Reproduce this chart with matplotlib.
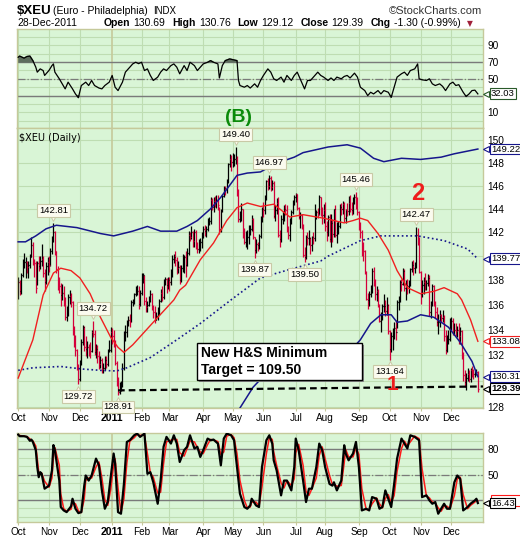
import numpy as np
import pandas as pd
import matplotlib
matplotlib.use("Agg")
import matplotlib.pyplot as plt
from matplotlib.patches import Rectangle
from matplotlib.ticker import FixedLocator, FuncFormatter, NullLocator
from matplotlib.transforms import blended_transform_factory, offset_copy

plt.rcParams["font.family"] = ["Liberation Sans", "DejaVu Sans"]

W, H = 520, 540
BG = "#D9F5D6"
GRID = "#BEDDB2"
TAN = "#C5C99A"
RED = "#D4003A"
NAVY = "#16168C"
MA_RED = "#F02020"
LINE_GREY = "#7A7A7A"

# ── trading calendar ─────────────────────────────────────────────────────────
holidays = ["2010-11-25", "2010-12-24", "2011-01-17", "2011-02-21", "2011-04-22",
            "2011-05-30", "2011-07-04", "2011-09-05", "2011-11-24", "2011-12-26"]
days = pd.bdate_range("2010-10-01", "2011-12-28")
days = days[~days.isin(pd.to_datetime(holidays))]

# ── daily bars, month by month ──────────────────────────────────────────────
closes = [
    137.9, 137.1, 138.4, 139.3, 139.5, 139.5, 139.1, 139.3, 139.9, 140.9, 139.7, 139.4, 137.4, 139.4, 139.2, 139.6, 139.8, 138.6, 137.9, 139.2, 139.5,
    139.3, 140.4, 141.3, 142.0, 140.4, 138.9, 137.9, 137.5, 136.8, 137.0, 136.1, 135.0, 135.4, 136.6, 136.7, 136.2, 133.8, 133.3, 132.4, 131.2, 130.1,
    131.4, 133.0, 134.2, 132.6, 132.5, 132.6, 132.5, 132.3, 133.8, 133.7, 132.2, 132.5, 131.9, 131.3, 131.6, 130.9, 131.0, 131.6, 131.3, 132.3, 132.4, 133.8,
    133.5, 133.0, 131.4, 129.9, 129.1, 129.7, 129.8, 131.0, 133.6, 133.8, 134.6, 134.8, 134.6, 136.2, 136.2, 136.9, 137.1, 137.1, 136.1, 137.0,
    138.1, 138.4, 136.3, 135.8, 136.0, 136.5, 136.9, 135.8, 135.4, 134.8, 135.1, 135.5, 136.3, 137.0, 136.6, 138.0, 138.1, 137.6, 138.0,
    137.9, 138.5, 139.8, 139.9, 139.7, 139.0, 139.1, 138.0, 139.0, 139.8, 139.9, 139.3, 140.3, 141.8, 141.6, 142.0, 141.3, 142.0, 140.9, 140.6, 141.1, 141.2, 141.6,
    142.3, 142.1, 142.3, 143.0, 143.0, 144.8, 144.2, 144.7, 144.6, 144.8, 144.3, 142.3, 143.8, 145.1, 145.8, 145.7, 146.5, 147.9, 148.3, 148.1,
    148.3, 148.3, 148.3, 145.4, 143.1, 143.5, 144.0, 141.9, 141.2, 141.2, 141.6, 142.3, 142.3, 143.1, 141.6, 140.5, 141.0, 140.9, 141.7, 143.1, 144.0,
    143.9, 145.0, 146.4, 146.0, 146.7, 145.9, 146.2, 143.4, 143.9, 144.5, 141.8, 141.4, 143.1, 143.4, 144.0, 143.9, 142.2, 141.8, 142.9, 143.7, 144.4, 145.0,
    145.3, 144.1, 143.3, 143.5, 142.6, 140.1, 139.9, 141.6, 141.5, 141.5, 140.9, 141.6, 141.5, 143.6, 143.7, 143.6, 145.0, 143.6, 143.5, 143.9,
    142.5, 142.0, 143.3, 141.4, 142.8, 141.9, 144.0, 141.8, 142.4, 142.5, 144.2, 144.0, 144.4, 143.2, 143.9, 143.8, 144.5, 144.0, 143.9, 144.9, 145.0, 144.5, 143.7,
    142.4, 142.0, 140.7, 140.4, 138.7, 136.5, 136.4, 136.9, 137.3, 138.8, 137.9, 136.9, 137.1, 136.0, 134.7, 135.0, 135.9, 135.9, 135.5, 136.0, 133.9,
    132.5, 133.5, 133.5, 134.1, 133.8, 136.2, 136.3, 137.9, 137.7, 138.8, 137.4, 137.6, 137.5, 137.7, 138.9, 139.3, 139.0, 139.1, 141.8, 141.5, 138.7,
    136.9, 137.6, 137.9, 137.8, 137.8, 138.2, 135.4, 136.1, 137.5, 136.1, 135.4, 134.6, 134.6, 135.2, 134.9, 135.0, 133.5, 132.4, 133.2, 133.3, 134.5,
    134.7, 134.0, 134.0, 133.9, 134.0, 133.5, 133.9, 131.9, 130.4, 129.9, 130.2, 130.5, 130.1, 130.8, 130.6, 130.5, 130.6, 130.7, 129.39,
]
highs = [
    138.3, 138.0, 138.6, 139.8, 140.3, 139.9, 139.6, 139.6, 140.2, 141.6, 141.2, 139.8, 139.6, 139.6, 140.0, 140.0, 141.0, 140.0, 138.9, 139.5, 139.9,
    140.0, 140.7, 141.7, 142.81, 142.1, 140.4, 139.2, 138.3, 137.8, 137.7, 137.5, 136.6, 135.9, 136.9, 137.2, 137.0, 136.3, 134.3, 133.6, 132.5, 131.3,
    131.6, 133.3, 134.4, 134.3, 133.5, 133.1, 132.9, 133.0, 134.0, 134.72, 134.0, 132.9, 132.8, 132.3, 131.9, 131.8, 131.4, 131.9, 131.9, 132.5, 133.2, 134.2,
    134.1, 134.0, 133.2, 131.5, 130.3, 129.9, 130.0, 131.4, 133.9, 134.4, 134.8, 135.1, 135.3, 136.4, 136.5, 137.0, 137.5, 137.6, 137.5, 137.2,
    138.6, 138.6, 138.4, 136.6, 136.3, 136.7, 137.2, 137.0, 136.0, 135.9, 135.4, 135.8, 136.5, 137.3, 137.5, 138.1, 138.3, 138.2, 138.3,
    138.3, 138.9, 140.1, 140.2, 140.4, 139.9, 139.6, 139.3, 139.3, 140.2, 140.1, 140.4, 140.7, 142.1, 142.0, 142.5, 142.1, 142.3, 142.2, 141.2, 141.4, 141.5, 142.0,
    142.5, 142.6, 142.5, 143.2, 143.3, 145.0, 144.9, 145.0, 145.1, 145.2, 145.2, 144.2, 144.0, 145.2, 146.0, 146.0, 146.6, 148.0, 148.8, 148.7,
    148.9, 148.8, 149.40, 148.6, 145.7, 143.8, 144.5, 144.0, 142.4, 142.1, 142.2, 142.6, 142.6, 143.5, 143.2, 141.6, 141.4, 141.2, 141.9, 143.4, 144.2,
    144.6, 145.2, 146.5, 146.7, 146.97, 146.8, 146.5, 146.4, 144.3, 144.9, 145.0, 142.2, 143.5, 143.8, 144.3, 144.4, 144.3, 142.5, 143.2, 143.9, 144.8, 145.2,
    145.4, 145.3, 144.2, 143.7, 143.6, 142.7, 140.8, 141.8, 142.0, 142.2, 141.6, 141.7, 142.0, 144.4, 143.9, 144.1, 145.2, 145.0, 144.2, 144.4,
    144.6, 143.0, 143.5, 143.6, 143.6, 143.1, 144.0, 144.3, 142.9, 143.0, 144.4, 144.5, 144.7, 144.6, 144.0, 144.5, 145.1, 145.2, 144.6, 145.0, 145.3, 145.46, 145.0,
    143.8, 142.9, 142.2, 141.2, 140.5, 138.8, 137.0, 137.1, 137.6, 139.0, 139.1, 138.1, 137.5, 137.3, 136.1, 135.4, 136.1, 136.9, 136.4, 136.6, 136.1,
    134.0, 133.8, 134.1, 134.6, 134.8, 136.4, 136.7, 138.0, 138.1, 139.0, 138.9, 138.0, 138.1, 138.0, 139.0, 139.6, 139.7, 139.5, 142.47, 142.4, 141.6,
    138.8, 138.0, 138.3, 138.6, 138.0, 138.5, 138.4, 136.3, 137.7, 137.6, 136.3, 135.8, 135.3, 135.6, 135.3, 135.6, 135.2, 134.0, 133.6, 134.0, 134.9,
    135.0, 134.9, 134.5, 134.5, 134.3, 134.5, 134.2, 134.0, 132.2, 130.8, 130.6, 131.0, 130.8, 131.0, 131.1, 130.9, 130.8, 130.9, 130.76,
]
lows = [
    136.5, 136.8, 136.9, 138.3, 139.0, 138.2, 138.6, 138.2, 139.0, 139.9, 139.3, 138.3, 137.0, 137.6, 138.8, 138.9, 139.2, 138.3, 137.1, 137.7, 138.4,
    138.7, 139.2, 140.2, 141.2, 140.1, 138.6, 137.2, 137.0, 135.9, 136.4, 135.9, 134.8, 134.7, 135.1, 136.1, 135.8, 133.6, 132.6, 131.9, 130.8, 129.72,
    130.0, 131.2, 132.8, 132.3, 131.9, 131.8, 131.9, 131.8, 132.2, 133.4, 132.0, 131.8, 131.4, 130.9, 131.0, 130.6, 130.6, 130.8, 131.0, 131.1, 132.2, 132.2,
    132.9, 132.6, 131.2, 129.6, 128.91, 129.0, 129.2, 129.5, 130.8, 133.1, 133.4, 134.3, 134.2, 134.6, 135.9, 136.1, 136.7, 136.8, 135.7, 135.9,
    136.8, 137.8, 136.0, 135.4, 135.4, 135.9, 136.2, 135.6, 134.9, 134.5, 134.8, 134.8, 135.2, 136.2, 136.3, 136.5, 137.6, 137.0, 137.3,
    137.1, 137.6, 138.3, 139.4, 139.2, 138.5, 138.6, 137.7, 137.9, 138.7, 138.6, 138.3, 139.2, 140.1, 141.3, 141.4, 140.8, 140.8, 140.6, 140.3, 140.3, 140.4, 140.7,
    141.5, 141.7, 141.6, 142.1, 142.6, 142.7, 143.9, 143.7, 144.2, 144.1, 143.9, 141.9, 142.0, 143.7, 145.0, 145.2, 145.4, 146.2, 147.6, 147.3,
    147.6, 147.7, 147.9, 145.1, 142.9, 142.9, 143.0, 141.5, 141.0, 140.8, 140.6, 141.0, 141.8, 142.1, 141.4, 139.87, 140.3, 140.4, 140.6, 141.5, 142.9,
    143.3, 143.6, 144.8, 145.6, 145.7, 145.5, 145.6, 143.2, 143.0, 143.6, 141.6, 140.8, 141.2, 142.7, 143.0, 143.5, 142.0, 141.4, 141.3, 142.7, 143.6, 144.3,
    144.6, 143.9, 143.1, 142.4, 142.3, 139.9, 139.50, 139.8, 140.9, 140.9, 140.2, 140.4, 141.0, 141.3, 143.1, 143.2, 143.5, 143.4, 142.7, 142.8,
    142.1, 141.3, 141.7, 141.2, 140.8, 141.2, 141.6, 141.6, 141.1, 141.9, 142.4, 143.5, 143.6, 142.9, 142.8, 143.4, 143.5, 143.7, 143.5, 143.6, 144.4, 144.0, 143.5,
    142.2, 141.5, 140.0, 139.6, 138.5, 136.4, 135.7, 135.9, 136.6, 137.0, 137.5, 136.4, 136.3, 135.8, 134.6, 133.8, 134.8, 135.4, 135.1, 135.2, 133.7,
    131.64, 132.2, 132.4, 133.3, 133.2, 134.1, 135.6, 136.2, 137.1, 137.6, 137.1, 136.4, 136.9, 137.0, 137.5, 138.7, 138.4, 138.6, 139.0, 140.9, 138.6,
    136.1, 136.6, 136.9, 137.2, 137.2, 137.5, 135.1, 134.9, 135.9, 135.9, 134.9, 134.3, 133.7, 134.2, 134.6, 134.6, 133.1, 132.1, 132.2, 132.9, 133.1,
    134.0, 133.6, 133.6, 133.5, 133.4, 132.9, 132.9, 131.7, 130.0, 129.5, 129.3, 130.0, 129.9, 129.9, 130.3, 130.1, 130.3, 130.4, 129.12,
]

# ── overlays, sampled by trading-day index ───────────────────────────────────
upper_idx = [0, 5, 12, 19, 26, 40, 56, 65, 78, 88, 97, 108, 115, 122, 131, 138, 145, 149, 156, 165,
             172, 179, 188, 194, 211, 224, 233, 242, 249, 261, 274, 288, 297, 313]
upper_val = [141.2, 141.2, 141.7, 142.3, 142.6, 142.4, 141.9, 141.7, 142.1, 142.5, 142.1, 142.1, 142.5, 143.0, 144.0, 145.0, 146.2, 146.9, 147.1, 147.2,
             147.7, 148.1, 148.5, 148.9, 149.4, 149.6, 149.3, 148.4, 148.1, 148.4, 148.3, 148.5, 148.8, 149.22]
sma50_idx = [0, 10, 17, 24, 29, 36, 42, 49, 56, 63, 68, 72, 78, 92, 106, 110, 114, 124, 133, 142, 149, 156,
             165, 174, 185, 194, 208, 222, 228, 233, 238, 245, 252, 258, 265, 274, 283, 290, 299, 302, 308, 313]
sma50_val = [130.2, 133.2, 136.8, 138.6, 139.0, 138.8, 138.2, 136.9, 135.0, 133.4, 132.6, 132.2, 132.8, 134.6, 136.4, 137.2, 137.6, 139.7, 141.1, 143.0, 144.1, 144.5,
             144.2, 144.4, 143.3, 143.5, 143.2, 142.8, 143.0, 143.2, 143.0, 141.9, 140.5, 138.8, 137.4, 136.9, 137.1, 137.4, 136.9, 136.4, 134.8, 133.08]
sma200_idx = [0, 10, 29, 44, 56, 67, 74, 90, 108, 124, 146, 165, 185, 206, 211, 233, 247, 272, 290, 306, 313]
sma200_val = [130.8, 131.0, 131.1, 130.9, 130.8, 130.75, 131.0, 131.8, 133.2, 134.5, 136.5, 138.2, 138.9, 139.6, 140.0, 141.3, 141.7, 141.7, 141.3, 140.6, 139.77]
lower_idx = [149, 151, 160, 165, 188, 199, 211, 222, 233, 240, 247, 254, 258, 265, 274, 283, 293, 301, 309, 313]
lower_val = [127.3, 127.9, 129.5, 130.1, 130.3, 130.6, 131.1, 131.8, 133.2, 134.5, 135.2, 135.2, 134.6, 134.7, 135.2, 135.0, 134.2, 133.0, 131.5, 130.31]

rsi_idx = [0, 1, 4, 6, 8, 10, 12, 13, 15, 17, 18, 21, 23, 24, 25, 28, 30, 32, 34, 37,
           39, 41, 43, 46, 48, 50, 52, 55, 57, 59, 62, 64, 66, 68, 71, 73, 75, 78, 80, 82,
           84, 86, 88, 90, 92, 95, 97, 99, 101, 104, 106, 108, 110, 113, 115, 117, 120, 122, 124, 126,
           129, 131, 133, 136, 137, 139, 141, 144, 147, 149, 150, 151, 154, 156, 158, 161, 163, 165, 167, 170,
           172, 174, 176, 179, 181, 183, 186, 188, 190, 192, 195, 197, 199, 202, 204, 206, 208, 211, 213, 215,
           217, 220, 222, 224, 226, 229, 231, 233, 236, 238, 240, 242, 245, 247, 249, 252, 254, 256, 258, 261,
           263, 265, 267, 270, 272, 273, 275, 278, 280, 282, 284, 287, 289, 291, 294, 296, 298, 300, 303, 305,
           307, 309, 311, 313]
rsi_val = [75.6, 77, 74.5, 76.5, 77, 71.6, 63.8, 57.9, 61.8, 59.8, 54, 60, 65.7, 67.7, 57.9, 50, 44, 38, 46, 38,
           32, 27.6, 42, 46, 42, 48, 42, 39, 38, 42, 46, 54, 40, 36, 46, 57.9, 61.8, 67.7, 69.7, 68,
           69.7, 59.8, 61.8, 54, 48, 52, 57.9, 61.8, 59.8, 65.7, 67.7, 63.8, 55.9, 65.7, 59.8, 69.7, 65.7, 59.8, 63.8, 67.7,
           69.7, 71.6, 69.7, 67.7, 51, 65.7, 71.6, 73.6, 72.4, 71.6, 48, 42, 40, 42, 39, 44, 40, 48, 54, 61.8,
           57.9, 50, 48, 52, 46, 54, 48, 54, 57.9, 50, 38, 48, 48, 54, 57.9, 54, 52, 48, 51, 48,
           52, 50, 52.8, 54, 51, 56.7, 52, 40, 36, 30, 34, 32, 36, 32, 36, 34, 28, 40, 52, 56,
           57.9, 54, 59.8, 61.8, 67.7, 50, 48.8, 48, 50, 44, 42, 44, 41, 36, 44, 46, 42, 43, 34, 29,
           32, 36, 36.5, 32.03]

sto_idx = [0, 1, 4, 6, 8, 9, 10, 12, 13, 14, 15, 16, 18, 21, 23, 24, 25, 28, 29, 31,
           33, 36, 37, 39, 41, 43, 45, 46, 48, 50, 53, 55, 57, 59, 61, 63, 65, 66, 68, 70,
           72, 74, 76, 79, 81, 83, 86, 88, 90, 92, 95, 97, 99, 101, 104, 106, 108, 110, 113, 115,
           117, 120, 122, 124, 126, 129, 131, 133, 136, 138, 140, 142, 145, 147, 149, 151, 154, 156, 158, 159,
           162, 164, 166, 169, 171, 173, 174, 176, 179, 181, 183, 186, 188, 189, 191, 194, 196, 198, 200, 203,
           205, 207, 209, 212, 214, 215, 217, 220, 222, 223, 225, 228, 230, 232, 234, 237, 239, 241, 244, 246,
           248, 250, 252, 254, 256, 258, 261, 263, 265, 267, 270, 273, 275, 278, 280, 282, 284, 286, 288, 290,
           292, 294, 297, 299, 301, 303, 306, 308, 311, 312, 313]
sto_k = [97.4, 95.5, 95.5, 94.7, 90, 91.5, 88.7, 79, 59, 47, 53, 51, 33.4, 37, 55, 85, 79, 43, 11.7, 7.7,
         5.7, 12.5, 21.5, 9.7, 4.5, 5.7, 37, 49, 43, 49, 69, 61, 31.4, 9.7, 17.6, 47, 75, 63, 5.7, 3.8,
         39, 88.7, 90.7, 96.6, 98.6, 94.7, 98.6, 51, 53, 41, 15.6, 43, 83, 94.7, 86.8, 96.6, 86.8, 65, 78.9, 83,
         96.6, 81, 83, 71, 78.9, 92.7, 90.7, 91.5, 86.8, 61, 92.7, 98.6, 96.6, 90.7, 59, 27.5, 11.7, 9.7, 13.6, 21.5,
         13.6, 11.7, 59, 90.7, 96.6, 86.8, 67, 55, 25.5, 43, 43, 31.4, 59, 92.7, 79, 43, 17.6, 33.4, 33.4, 59,
         86.8, 79, 59, 39, 37, 41, 31.4, 43, 84.8, 75, 67, 75, 88.7, 59, 7.7, 9.7, 7.7, 23.5, 21.5, 9.7,
         11.7, 31.4, 21.5, 11.7, 39, 69, 92.7, 86.8, 81, 96.6, 94.7, 90.7, 23.5, 25.5, 19.6, 15.6, 17.6, 3.8, 9.7, 15.6,
         9.7, 9.7, 41, 49, 45, 7.7, 11.7, 15.6, 19.6, 21.5, 16.43]

label_highs = [142.81, 149.40, 134.72, 146.97, 145.46, 142.47]
label_lows = [129.72, 128.91, 139.87, 139.50, 131.64]
hs_line = [129.25, 129.55]

n = min(len(days), len(closes), len(highs), len(lows))
closes = np.array(closes[:n])
highs = np.array(highs[:n])
lows = np.array(lows[:n])
days = days[:n]
x = np.arange(n)
month_idx = [i for i in range(n) if i == 0 or days[i].month != days[i - 1].month]
month_lab = ["2011" if days[i].month == 1 else days[i].strftime("%b") for i in month_idx]

# ── figure + panels ──────────────────────────────────────────────────────────
fig = plt.figure(figsize=(W / 100, H / 100), dpi=100)
fig.patch.set_facecolor("white")


def px_box(x0, y_top, x1, y_bot):
    return [x0 / W, 1 - y_bot / H, (x1 - x0) / W, (y_bot - y_top) / H]


ax_rsi = fig.add_axes(px_box(17, 29, 483, 128))
ax = fig.add_axes(px_box(17, 128, 483, 408))
ax_sto = fig.add_axes(px_box(17, 433, 483, 522))


def style(a, show_x):
    a.set_facecolor(BG)
    a.set_xlim(-0.8, 316.5)
    for s in a.spines.values():
        s.set_color(TAN)
        s.set_linewidth(1)
    a.yaxis.tick_right()
    a.tick_params(axis="y", length=0, pad=3, labelsize=7.3)
    for i in month_idx:
        yr = days[i].month == 1
        a.axvline(i, color=TAN if yr else GRID, lw=1.2 if yr else 0.8, zorder=0.5)
    if show_x:
        a.set_xticks(month_idx)
        a.set_xticklabels(month_lab)
        a.tick_params(axis="x", length=2, color=TAN, pad=1.5, labelsize=7.2)
        for t in a.get_xticklabels():
            if t.get_text() == "2011":
                t.set_fontweight("bold")
                t.set_fontsize(7.6)
    else:
        a.set_xticks([])


def tag(a, val, text, ec, bold=False):
    tr = blended_transform_factory(a.transAxes, a.transData)
    a.plot([1.006], [val], marker="<", ms=5, mfc="white", mec=ec, mew=0.8,
           transform=tr, clip_on=False, zorder=9)
    a.text(1.017, val, text, transform=tr, ha="left", va="center", fontsize=6.8,
           fontweight="bold" if bold else "normal",
           bbox=dict(boxstyle="square,pad=0.1", fc="white", ec=ec, lw=0.8),
           zorder=10, clip_on=False)


def y_labels(a, ticks, hidden):
    a.set_yticks(ticks)
    a.set_yticklabels(["" if t in hidden else f"{t:g}" for t in ticks])


# ── RSI panel ────────────────────────────────────────────────────────────────
style(ax_rsi, False)
ax_rsi.set_ylim(-8.5, 109.2)
for v in range(0, 101, 10):
    ax_rsi.axhline(v, color=GRID, lw=0.8, zorder=0.4)
ax_rsi.axhline(70, color=LINE_GREY, lw=1, zorder=1)
ax_rsi.axhline(30, color=LINE_GREY, lw=1, zorder=1)
ax_rsi.axhline(50, color=LINE_GREY, lw=0.9, ls="-.", zorder=1)
rv = np.array(rsi_val)
ax_rsi.fill_between(rsi_idx, rv, 70, where=rv > 70, color="#5E6E5E", interpolate=True, zorder=2)
ax_rsi.fill_between(rsi_idx, rv, 30, where=rv < 30, color="#5E6E5E", interpolate=True, zorder=2)
ax_rsi.plot(rsi_idx, rv, color="black", lw=0.9, zorder=3)
y_labels(ax_rsi, [10, 30, 50, 70, 90], [30])
tag(ax_rsi, rsi_val[-1], f"{rsi_val[-1]:.2f}", "#2A5A2A")

# ── price panel ──────────────────────────────────────────────────────────────
style(ax, True)
ax.set_yscale("log")
ax.set_ylim(127.9, 151.1)
price_ticks = list(range(128, 151, 2))
ax.yaxis.set_major_locator(FixedLocator(price_ticks))
ax.yaxis.set_major_formatter(FuncFormatter(lambda v, p: "" if round(v) in (130, 140) else f"{v:.0f}"))
ax.yaxis.set_minor_locator(NullLocator())
for v in price_ticks:
    ax.axhline(v, color=GRID, lw=0.8, zorder=0.4)

prev = np.r_[closes[0], closes[:-1]]
cols = np.where(closes >= prev, "black", RED)
ax.vlines(x, lows, highs, colors=cols, lw=0.9, zorder=2)
ax.hlines(closes, x, x + 0.5, colors=cols, lw=0.9, zorder=2)
ax.hlines(prev, x - 0.5, x, colors=cols, lw=0.9, zorder=2)

ax.plot(upper_idx, upper_val, color=NAVY, lw=1.1, zorder=3)
ax.plot(lower_idx, lower_val, color=NAVY, lw=1.1, zorder=3)
ax.plot(sma200_idx, sma200_val, color=NAVY, lw=1.2, ls=(0, (1, 1.6)), zorder=3)
ax.plot(sma50_idx, sma50_val, color=MA_RED, lw=1.0, zorder=3)

# H&S neckline
start = int(np.where(lows == min(label_lows))[0][0])
ax.plot([start, 316.5], hs_line, color="black", lw=1.6, ls=(0, (3, 1.8)), zorder=4)

ax.text(0.005, 0.982, "$XEU (Daily)", transform=ax.transAxes, ha="left", va="top",
        fontsize=7, family="DejaVu Sans", zorder=6)

cream, cream_ec = "#FBFBEF", "#C9C9A6"
for v in label_highs:
    i = int(np.where(highs == v)[0][0])
    ax.plot([i], [v], marker="v", ms=5, mfc=cream, mec=cream_ec, mew=0.7, zorder=7,
            transform=offset_copy(ax.transData, fig=fig, y=3.5, units="points"))
    ax.annotate(f"{v:.2f}", (i, v), xytext=(0, 5.5), textcoords="offset points",
                ha="center", va="bottom", fontsize=6.8, zorder=8,
                bbox=dict(boxstyle="square,pad=0.2", fc=cream, ec=cream_ec, lw=0.8))
for v in label_lows:
    i = int(np.where(lows == v)[0][0])
    ax.plot([i], [v], marker="^", ms=5, mfc=cream, mec=cream_ec, mew=0.7, zorder=7,
            transform=offset_copy(ax.transData, fig=fig, y=-3.5, units="points"))
    ax.annotate(f"{v:.2f}", (i, v), xytext=(0, -5.5), textcoords="offset points",
                ha="center", va="top", fontsize=6.8, zorder=8,
                bbox=dict(boxstyle="square,pad=0.2", fc=cream, ec=cream_ec, lw=0.8))

# H&S note box
bx0, bx1 = (197 - 17) / 466, (362 - 17) / 466
by0, by1 = (408 - 380) / 280, (408 - 343) / 280
ax.add_patch(Rectangle((bx0 + 0.005, by0 - 0.008), bx1 - bx0, by1 - by0, transform=ax.transAxes,
                       fc="#8A8A8A", ec="none", zorder=8))
ax.add_patch(Rectangle((bx0, by0), bx1 - bx0, by1 - by0, transform=ax.transAxes,
                       fc="white", ec="black", lw=1, zorder=9))
ax.text(bx0 + 0.008, by0 + (by1 - by0) * 0.73, "New H&S Minimum", transform=ax.transAxes,
        ha="left", va="center", fontsize=10, fontweight="bold", zorder=10)
ax.text(bx0 + 0.008, by0 + (by1 - by0) * 0.27, "Target = 109.50", transform=ax.transAxes,
        ha="left", va="center", fontsize=10, fontweight="bold", zorder=10)

tag(ax, upper_val[-1], f"{upper_val[-1]:.2f}", NAVY)
tag(ax, sma200_val[-1], f"{sma200_val[-1]:.2f}", NAVY)
tag(ax, sma50_val[-1], f"{sma50_val[-1]:.2f}", MA_RED)
tag(ax, lower_val[-1], f"{lower_val[-1]:.2f}", NAVY)
tag(ax, closes[-1], f"{closes[-1]:.2f}", "black", bold=True)

# ── stochastic panel ─────────────────────────────────────────────────────────
style(ax_sto, True)
ax_sto.set_ylim(-6, 99.3)
for v in range(0, 101, 10):
    ax_sto.axhline(v, color=GRID, lw=0.8, zorder=0.4)
ax_sto.axhline(80, color=LINE_GREY, lw=1, zorder=1)
ax_sto.axhline(20, color=LINE_GREY, lw=1, zorder=1)
ax_sto.axhline(50, color=LINE_GREY, lw=0.9, ls="-.", zorder=1)
sto_d = pd.Series(sto_k).rolling(2, min_periods=1).mean()
ax_sto.plot(sto_idx, sto_d, color="#FF1A1A", lw=1.1, zorder=2)
ax_sto.plot(sto_idx, sto_k, color="black", lw=1.6, zorder=3)
y_labels(ax_sto, [20, 50, 80], [20])
# %D tag sits just behind the %K tag (only its red frame shows)
tr_sto = blended_transform_factory(ax_sto.transAxes, ax_sto.transData)
ax_sto.add_patch(Rectangle((1.017, sto_d.iloc[-1] - 5.5), 0.072, 13, transform=tr_sto,
                           fc="white", ec="#FF1A1A", lw=0.8, clip_on=False, zorder=8))
tag(ax_sto, sto_k[-1], f"{sto_k[-1]:.2f}", "black")

# ── header and wave labels ───────────────────────────────────────────────────
def ftext(px, py, s, **kw):
    return fig.text(px / W, 1 - py / H, s, va="center", **kw)


ftext(17, 11, "$XEU", fontsize=9.5, fontweight="bold")
ftext(53, 11.5, "(Euro - Philadelphia)", fontsize=7.5)
ftext(153, 11.5, "INDX", fontsize=7)
ftext(482, 11.5, "\u00a9StockCharts.com", fontsize=8, color="#333333", ha="right")
ftext(17, 23.5, "28-Dec-2011", fontsize=7.5)

row = [("Open", True), ("130.69", False), ("High", True), ("130.76", False),
       ("Low", True), ("129.12", False), ("Close", True), ("129.39", False),
       ("Chg", True), ("-1.30 (-0.99%)", False)]
renderer = fig.canvas.get_renderer()
cur = 104
for s, b in row:
    t = ftext(cur, 23.5, s, fontsize=7.5, fontweight="bold" if b else "normal")
    cur += t.get_window_extent(renderer).width + (3 if b else 7)
ftext(cur - 1, 23.5, "\u25bc", fontsize=5.5, color="#A0203A", family="DejaVu Sans")

ftext(238, 117, "(B)", fontsize=14, fontweight="bold", color="#0A8A0A", ha="center", zorder=20)
ftext(418, 194, "2", fontsize=17, fontweight="bold", color="#EE1C1C", ha="center", zorder=20)
ftext(392, 385, "1", fontsize=15, fontweight="bold", color="#EE1C1C", ha="center", zorder=20)

fig.savefig("out.png", dpi=100, facecolor="white")
